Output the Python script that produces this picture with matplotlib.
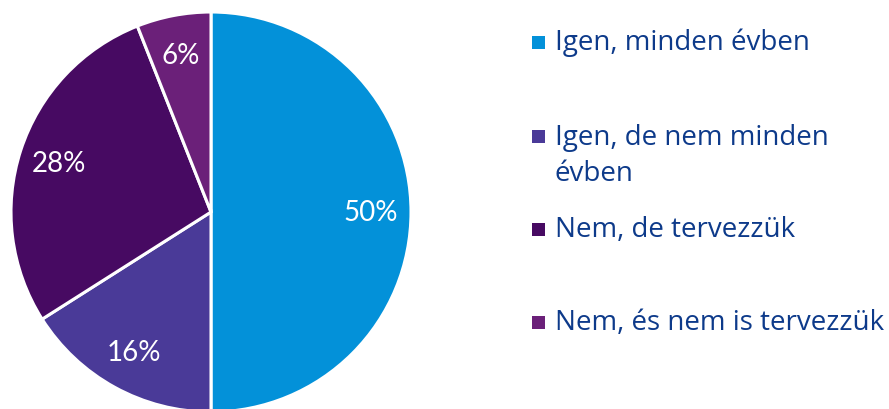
import matplotlib.pyplot as plt
from matplotlib.patches import Rectangle

labels = ["Igen, minden évben", "Igen, de nem minden\névben", "Nem, de tervezzük", "Nem, és nem is tervezzük"]
values = [50, 16, 28, 6]
colors = ["#0391D9", "#4A3A98", "#470A62", "#6B2079"]

plt.rcParams["font.family"] = ["Lato", "DejaVu Sans"]

W, H = 889, 410
fig = plt.figure(figsize=(W / 100, H / 100), dpi=100)

# pie axes: center ~ (211, 213) px from top, radius ~200 px
cx, cy, r = 211, 213, 200
ax = fig.add_axes([(cx - r) / W, (H - cy - r) / H, 2 * r / W, 2 * r / H])
wedges, texts, autotexts = ax.pie(
    values, colors=colors, startangle=90, counterclock=False,
    autopct="%.0f%%", pctdistance=0.8,
    wedgeprops=dict(edgecolor="white", linewidth=2.2),
    textprops=dict(color="white", fontsize=20),
)
ax.set_xlim(-1, 1)
ax.set_ylim(-1, 1)
ax.set_aspect("equal")
for w in wedges:
    w.set_clip_on(False)

# legend drawn by hand to keep the uneven row spacing
square_y = [43, 137, 230, 323]
text_y = [43, 156, 230, 323]
for lab, col, sy, ty in zip(labels, colors, square_y, text_y):
    fig.patches.append(Rectangle((532 / W, (H - sy - 6.5) / H), 13 / W, 13 / H,
                                 transform=fig.transFigure, facecolor=col, edgecolor="none"))
    fig.text(555 / W, (H - ty) / H, lab, fontsize=20, color="#0D3A8A",
             family=["Open Sans", "DejaVu Sans"],
             va="center", ha="left", linespacing=1.4)

fig.savefig("out.png", dpi=100)
